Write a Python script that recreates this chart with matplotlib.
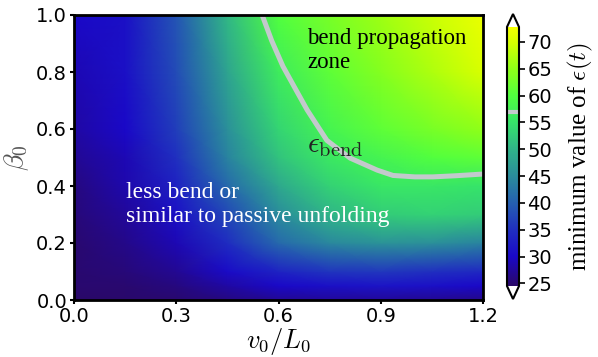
import numpy as np
import matplotlib
matplotlib.use("Agg")
import matplotlib.pyplot as plt
from matplotlib.colors import LinearSegmentedColormap, Normalize

plt.rcParams['mathtext.fontset'] = 'cm'
plt.rcParams['font.family'] = ['DejaVu Sans']

# grid of the heat map (x = v0/L0, y = beta0)
x_vals = [0.0, 0.15, 0.3, 0.45, 0.6, 0.75, 0.9, 1.05, 1.2]
beta_vals = [0.0, 0.05, 0.1, 0.2, 0.3, 0.4, 0.5, 0.6, 0.8, 1.0]
# minimum value of eps(t); rows follow beta_vals, columns follow x_vals
eps_min = [
    [24.6, 24.8, 25.0, 26.0, 27.0, 27.5, 27.5, 27.0, 26.5],
    [25.0, 25.0, 26.0, 28.0, 30.0, 31.0, 31.5, 31.0, 30.0],
    [25.0, 25.5, 27.0, 30.5, 33.5, 35.5, 36.0, 35.0, 34.0],
    [25.0, 26.5, 29.0, 34.5, 41.0, 44.5, 46.0, 45.5, 44.0],
    [25.5, 27.5, 31.0, 37.5, 45.0, 50.0, 52.5, 53.0, 52.5],
    [26.0, 28.5, 33.0, 41.0, 48.5, 53.0, 55.5, 55.5, 55.0],
    [27.0, 29.0, 35.0, 44.0, 51.5, 56.0, 58.0, 60.0, 61.0],
    [28.0, 30.0, 36.5, 45.5, 53.5, 58.0, 61.0, 63.0, 65.0],
    [29.0, 31.0, 38.0, 48.0, 56.5, 61.0, 64.0, 67.0, 70.0],
    [30.0, 31.0, 39.0, 50.5, 60.0, 63.0, 66.0, 69.0, 72.0],
]
# eps_bend level curve
eps_bend = 57.0
bend_x = [0.552, 0.58, 0.613, 0.65, 0.684, 0.742, 0.81, 0.889, 0.936, 1.0, 1.053, 1.12, 1.2]
bend_beta = [1.0, 0.91, 0.82, 0.74, 0.667, 0.56, 0.498, 0.456, 0.437, 0.432, 0.432, 0.436, 0.442]

cbar_ticks = [25, 30, 35, 40, 45, 50, 55, 60, 65, 70]
vmin, vmax = 24.5, 72.8

anchors = [(24.5, '#2a0868'), (30, '#1a08c8'), (35, '#2030c0'), (40, '#2560b0'),
           (45, '#2a8c9c'), (50, '#30b488'), (55, '#36e46a'), (60, '#50ff40'),
           (65, '#90ff18'), (70, '#d8ff00'), (72.8, '#f4ff00')]
cmap = LinearSegmentedColormap.from_list(
    'custom', [((v - vmin) / (vmax - vmin), c) for v, c in anchors])
cmap.set_over('white')
cmap.set_under('white')
norm = Normalize(vmin=vmin, vmax=vmax)

fig = plt.figure(figsize=(5.98, 3.57), dpi=100)
ax = fig.add_axes([74/598, 1-300/357, 409/598, 285/357])
X, Y = np.meshgrid(x_vals, beta_vals)
mesh = ax.pcolormesh(X, Y, np.array(eps_min), cmap=cmap, norm=norm, shading='gouraud')
ax.plot(bend_x, bend_beta, color='#c3c9cc', lw=3.6, solid_capstyle='butt')
ax.set_xlim(0, 1.2)
ax.set_ylim(0, 1.0)
ax.set_xticks([0.0, 0.3, 0.6, 0.9, 1.2])
ax.set_yticks([0.0, 0.2, 0.4, 0.6, 0.8, 1.0])
ax.tick_params(labelsize=14, width=1.5, length=3, pad=2)
for s in ax.spines.values():
    s.set_linewidth(2)
ax.set_xlabel(r'$v_0/L_0$', fontsize=19, labelpad=0)
ax.set_ylabel(r'$\beta_0$', fontsize=20, labelpad=4, color='#555555')

serif = ['Liberation Serif', 'DejaVu Serif']
ax.text(0.685, 0.955, 'bend propagation\nzone', fontsize=16.5, family=serif,
        color='black', va='top', ha='left')
ax.text(0.683, 0.545, r'$\epsilon_{\rm bend}$', fontsize=21, color='#222222',
        va='center', ha='left')
ax.text(0.152, 0.415, 'less bend or\nsimilar to passive unfolding', fontsize=17,
        family=serif, color='white', va='top', ha='left')

cax = fig.add_axes([507/598, 1-299/357, 12/598, 285/357])
cb = fig.colorbar(mesh, cax=cax, extend='both', ticks=cbar_ticks)
cb.outline.set_linewidth(1.5)
cb.ax.tick_params(labelsize=14, width=1.2, length=4, pad=2)
cb.ax.axhline(eps_bend, color='#c3c9cc', lw=3)
cb.set_label(r'minimum value of $\epsilon(t)$', fontsize=18, family=serif, labelpad=10)

fig.savefig('out.png', dpi=100)
